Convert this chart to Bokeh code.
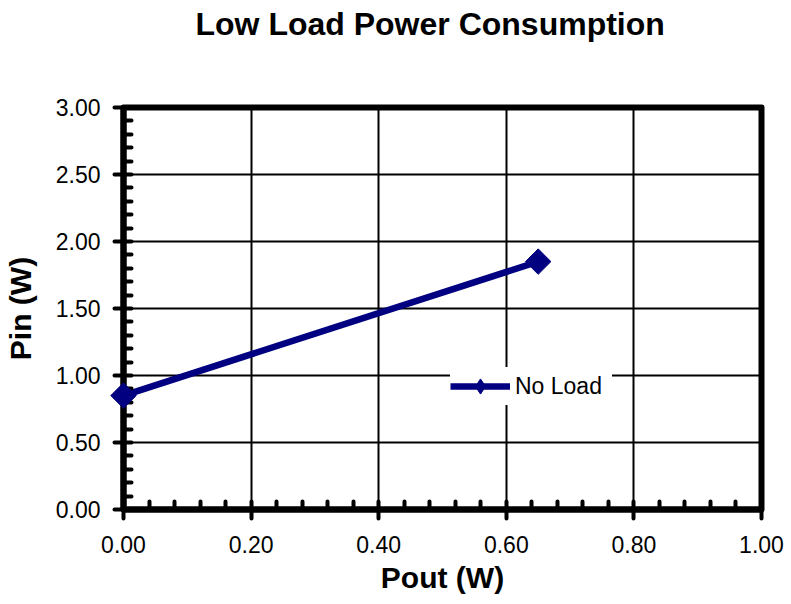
import numpy as np
from bokeh.plotting import figure
from bokeh.models import FixedTicker, PrintfTickFormatter, Legend, LegendItem, Range1d, Title
from bokeh.embed import file_html
from bokeh.resources import INLINE

# ---- data ----
chart_title = "Low Load Power Consumption"
x_label = "Pout (W)"
y_label = "Pin (W)"
series_name = "No Load"
pout = [0.00, 0.65]
pin = [0.85, 1.85]
x_ticks = [0.0, 0.2, 0.4, 0.6, 0.8, 1.0]
y_ticks = [0.0, 0.5, 1.0, 1.5, 2.0, 2.5, 3.0]
x_minor = [round(i * 0.04, 2) for i in range(26)]
y_minor = [round(i * 0.1, 1) for i in range(31)]

FONT = "Liberation Sans"
NAVY = "#000080"
FW, FH = 638, 402

p = figure(frame_width=FW, frame_height=FH,
           x_range=Range1d(0, 1), y_range=Range1d(0, 3),
           output_backend="svg", toolbar_location=None,
           min_border_left=120, min_border_right=24,
           min_border_top=107, min_border_bottom=87)

# spacer between the frame and the title (pushes the title up)
spacer = Title(text=" ", text_font=FONT, text_font_size="23px", standoff=32)
p.add_layout(spacer, "above")

p.title.text = chart_title
p.title.text_font = FONT
p.title.text_font_size = "32px"
p.title.text_font_style = "bold"
p.title.text_color = "black"
p.title.align = "left"
p.title.offset = 72
p.title.vertical_align = "top"
p.title.standoff = 8

p.outline_line_color = "black"
p.outline_line_width = 6
p.outline_line_join = "round"

p.xaxis.ticker = FixedTicker(ticks=x_ticks, minor_ticks=x_minor)
p.yaxis.ticker = FixedTicker(ticks=y_ticks, minor_ticks=y_minor)
p.xaxis.formatter = PrintfTickFormatter(format="%.2f")
p.yaxis.formatter = PrintfTickFormatter(format="%.2f")

for ax in (p.xaxis, p.yaxis):
    ax.axis_line_width = 6
    ax.axis_line_color = "black"
    ax.major_tick_in = 0
    ax.major_tick_out = 9
    ax.major_tick_line_width = 4
    ax.major_tick_line_cap = "round"
    ax.minor_tick_in = 8
    ax.minor_tick_out = 0
    ax.minor_tick_line_width = 4
    ax.minor_tick_line_cap = "round"
    ax.major_label_text_font = FONT
    ax.major_label_text_font_size = "23px"
    ax.major_label_text_color = "black"
    ax.axis_label_text_font = FONT
    ax.axis_label_text_font_size = "30px"
    ax.axis_label_text_font_style = "bold"
    ax.axis_label_text_color = "black"

p.xaxis.axis_label = x_label
p.yaxis.axis_label = y_label
p.xaxis.major_label_standoff = 17
p.yaxis.major_label_standoff = 14
p.xaxis.axis_label_standoff = 5
p.yaxis.axis_label_standoff = 16

p.grid.grid_line_color = "black"
p.grid.grid_line_width = 2

r_line = p.line(pout, pin, line_color=NAVY, line_width=6.5)
r_pts = p.scatter(pout, pin, marker="square", angle=np.pi / 4, size=18,
                  fill_color=NAVY, line_color=NAVY, level="overlay")
# legend key marker (hidden renderer, only used to draw the legend diamond)
r_key = p.scatter(pout, pin, marker="diamond", size=15,
                  fill_color=NAVY, line_color=NAVY, visible=False)

legend = Legend(items=[LegendItem(label=series_name, renderers=[r_line, r_key])],
                location=(327, 104))
legend.background_fill_color = "white"
legend.background_fill_alpha = 1.0
legend.border_line_alpha = 0
legend.padding = 0
legend.margin = 0
legend.glyph_width = 60
legend.glyph_height = 38
legend.label_height = 38
legend.label_width = 97
legend.label_standoff = 5
legend.label_text_font = FONT
legend.label_text_font_size = "23px"
legend.label_text_color = "black"
p.add_layout(legend)

open("out.html", "w").write(file_html(p, INLINE))
